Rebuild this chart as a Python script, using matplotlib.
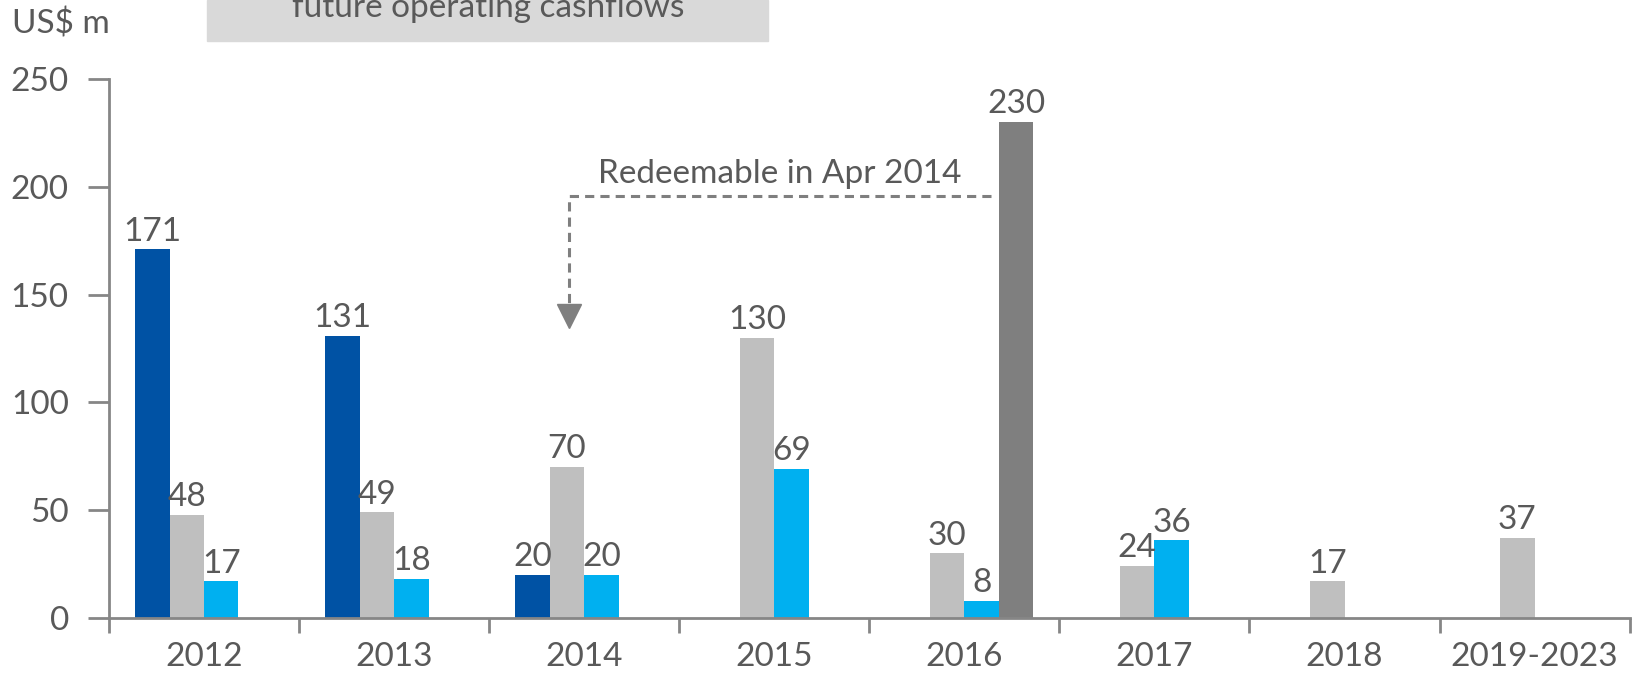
import numpy as np
import matplotlib
matplotlib.use("Agg")
from matplotlib import pyplot as plt
from matplotlib.patches import Rectangle

plt.rcParams['font.family'] = ['Lato', 'DejaVu Sans']

categories = ['2012', '2013', '2014', '2015', '2016', '2017', '2018', '2019-2023']
dark_blue = [171, 131, 20, np.nan, np.nan, np.nan, np.nan, np.nan]
light_gray = [48, 49, 70, 130, 30, 24, 17, 37]
cyan = [17, 18, 20, 69, 8, 36, np.nan, np.nan]
dark_gray = [np.nan, np.nan, np.nan, np.nan, 230, np.nan, np.nan, np.nan]
yticks = [0, 50, 100, 150, 200, 250]

txt = '#595959'
axcol = '#868686'
fs = 24

fig = plt.figure(figsize=(16.35, 6.76), dpi=100)
ax = fig.add_axes([0.0667, 0.0858, 0.930, 0.7973])

x = np.arange(len(categories))
w = 0.181
series = [(dark_blue, '#0052A4', -1.5), (light_gray, '#BFBFBF', -0.5),
          (cyan, '#00B0F0', 0.5), (dark_gray, '#7F7F7F', 1.5)]
for vals, col, off in series:
    v = np.array(vals, dtype=float)
    bars = ax.bar(x + off * w, v, width=w, color=col, zorder=2)
    for b, val in zip(bars, v):
        if not np.isnan(val):
            ax.annotate(f'{int(val)}', (b.get_x() + b.get_width() / 2, val),
                        xytext=(0, 2), textcoords='offset points',
                        ha='center', va='bottom', fontsize=fs, color=txt)

ax.set_xlim(-0.5, len(categories) - 0.5)
ax.set_ylim(0, 250)
ax.set_yticks(yticks)
ax.set_xticks(x)
ax.set_xticklabels(categories)
ax.set_xticks(np.arange(-0.5, len(categories)), minor=True)
ax.tick_params(axis='x', which='major', length=0, pad=17, labelsize=fs, labelcolor=txt)
ax.tick_params(axis='x', which='minor', length=11, width=2, color=axcol, direction='out')
ax.tick_params(axis='y', length=15, width=2, color=axcol, labelsize=fs, labelcolor=txt, pad=14)
for s in ['top', 'right']:
    ax.spines[s].set_visible(False)
for s in ['left', 'bottom']:
    ax.spines[s].set_color(axcol)
    ax.spines[s].set_linewidth(2)

# redeemable annotation
arrow_x = 1.92
arrow_top = 195.7
arrow_tip = 134
line_end = 4.14
ax.plot([line_end, arrow_x, arrow_x], [arrow_top, arrow_top, arrow_tip + 6],
        ls=(0, (3, 2)), color='#7F7F7F', lw=2.2, zorder=3)
ax.plot([arrow_x], [arrow_tip + 6], marker='v', markersize=17, color='#7F7F7F', zorder=3)
ax.text(3.03, 199, 'Redeemable in Apr 2014', ha='center', va='bottom',
        fontsize=fs, color=txt)

# header pieces
fig.text(12 / 1635, 1 - 24 / 676, 'US$ m', ha='left', va='center', fontsize=fs, color=txt)
fig.patches.append(Rectangle((207 / 1635, 1 - 41 / 676), 561 / 1635, 41 / 676,
                             transform=fig.transFigure, color='#D9D9D9', zorder=0))
fig.text(488 / 1635, 1 - 17 / 676, 'future operating cashflows', ha='center',
         va='baseline', fontsize=fs, color=txt)

fig.savefig('out.png', dpi=100)
